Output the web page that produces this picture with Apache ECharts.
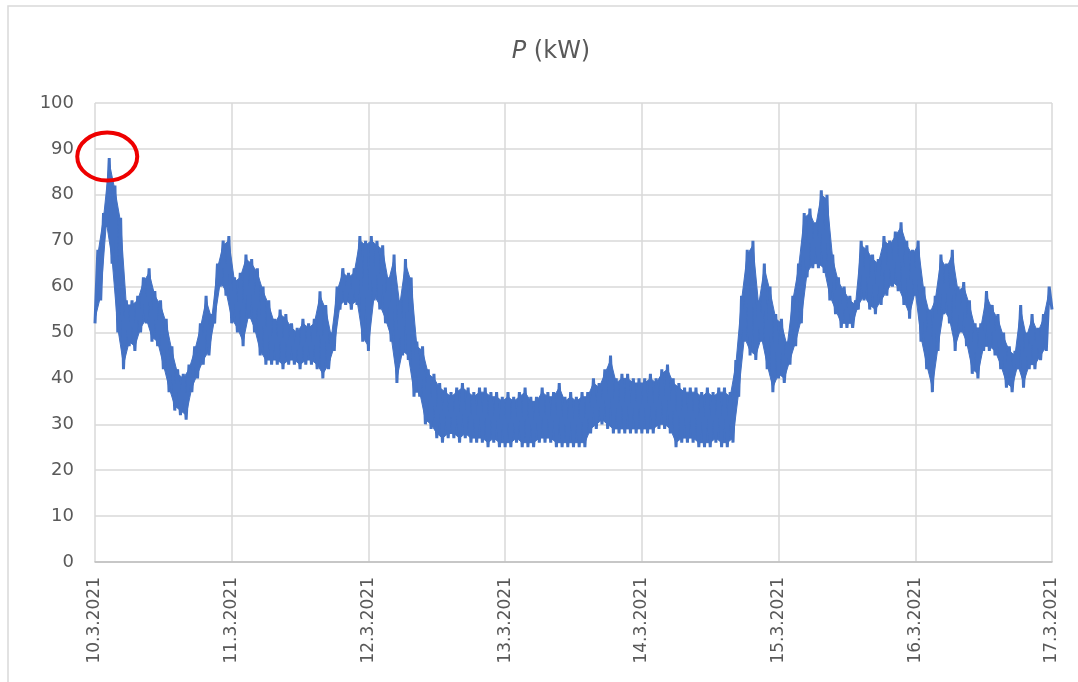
<!DOCTYPE html>
<html>
<head>
<meta charset="utf-8">
<script src="https://cdn.jsdelivr.net/npm/echarts@6/dist/echarts.min.js"></script>
<style>
html,body{margin:0;padding:0;background:#fff;}
#c{width:1078px;height:682px;}
</style>
</head>
<body>
<div id="c"></div>
<script>
// Tick labels (one per day, midnight)
const tickLabels = ['10.3.2021','11.3.2021','12.3.2021','13.3.2021','14.3.2021','15.3.2021','16.3.2021','17.3.2021'];

// Hourly low / high envelope of P (kW), one row per day, 24 hours each
const lowValues = [
  [52,57,73,65,50,42,47,46,50,52,48,47,42,37,33,32,31,37,40,43,45,52,60,58],
  [52,50,47,53,50,45,43,43,43,42,43,43,42,43,43,42,40,42,46,55,56,55,56,48],
  [46,57,55,52,48,39,45,44,36,36,30,29,27,26,27,27,26,27,26,26,26,25,26,25],
  [25,25,26,25,25,25,26,26,26,25,25,25,25,25,25,28,29,30,29,28,28,28,28,28],
  [28,28,28,29,29,28,25,26,26,26,25,25,25,26,25,25,26,36,48,45,44,48,42,37],
  [40,39,43,47,52,62,64,64,63,57,54,51,51,51,55,57,55,54,56,58,60,59,56,53],
  [58,48,42,37,46,54,52,46,50,47,41,40,46,46,45,42,38,37,42,38,42,42,44,46]
];
const highValues = [
  [68,76,88,82,75,57,57,58,62,64,59,57,53,47,42,41,43,47,52,58,54,65,70,71],
  [62,63,67,66,64,60,57,53,55,54,52,51,53,52,53,59,56,50,60,64,63,64,71,70],
  [71,70,69,62,67,57,66,62,48,47,42,41,39,38,37,38,39,38,37,38,38,37,37,36],
  [37,36,37,38,36,36,38,37,37,39,36,37,36,37,37,40,39,42,45,40,41,41,40,40],
  [40,41,40,42,43,40,39,38,38,38,37,38,37,38,38,37,44,58,68,70,57,65,60,54],
  [53,48,58,65,76,77,74,81,80,67,62,60,58,57,70,69,67,66,71,70,72,74,70,68],
  [70,60,55,58,67,65,68,60,61,57,52,52,59,56,54,50,47,46,56,50,54,51,54,60]
];
const endValue = 55; // value at 17.3.2021 00:00

// Build series points [hour, value] from the arrays
const series = [];
const quads = []; // [t, lo, hi, nextLo, nextHi] per hour, filled under the trace
const flatLo = [], flatHi = [];
for (let d = 0; d < lowValues.length; d++) {
  for (let h = 0; h < 24; h++) {
    const t = d * 24 + h;
    flatLo.push(lowValues[d][h]); flatHi.push(highValues[d][h]);
    series.push([t, lowValues[d][h]]);
    series.push([t + 0.5, highValues[d][h]]);
  }
}
for (let i = 0; i < flatLo.length - 1; i++) {
  quads.push([i, flatLo[i], flatHi[i], flatLo[i + 1], flatHi[i + 1]]);
}
const lastHour = (tickLabels.length - 1) * 24;
series.push([lastHour, endValue]);

// peak point (for the red annotation ring)
let peak = series[0];
series.forEach(p => { if (p[1] > peak[1]) peak = p; });

const BLUE = '#4472C4';
const chart = echarts.init(document.getElementById('c'), null, {renderer: 'canvas'});
const axisFont = 'DejaVu Sans';
chart.setOption({
  animation: false,
  backgroundColor: '#ffffff',
  title: {
    text: '{i|P} (kW)',
    left: 546,
    textAlign: 'center',
    top: 35,
    textStyle: {
      fontFamily: axisFont, fontSize: 24, fontWeight: 'normal', color: '#595959',
      rich: { i: { fontFamily: axisFont, fontSize: 24, fontStyle: 'italic', color: '#595959' } }
    }
  },
  grid: { left: 95, right: 26, top: 103, bottom: 120, containLabel: false },
  xAxis: {
    type: 'value',
    min: 0, max: lastHour, interval: 24,
    axisLine: { show: true, lineStyle: { color: '#bfbfbf', width: 1.5 } },
    axisTick: { show: false },
    splitLine: { show: true, lineStyle: { color: '#d9d9d9', width: 1.5 } },
    axisLabel: {
      rotate: 90, margin: 15,
      fontFamily: axisFont, fontSize: 17, color: '#595959',
      formatter: v => tickLabels[Math.round(v / 24)] || ''
    }
  },
  yAxis: {
    type: 'value',
    min: 0, max: 100, interval: 10,
    axisLine: { show: false },
    axisTick: { show: false },
    splitLine: { show: true, lineStyle: { color: '#d9d9d9', width: 1.5 } },
    axisLabel: { margin: 21, fontFamily: axisFont, fontSize: 18, color: '#595959' }
  },
  series: [
    {
      type: 'custom',
      data: quads,
      silent: true,
      z: 2,
      encode: { x: 0, y: 1 },
      renderItem: function (params, api) {
        const t = api.value(0);
        const p1 = api.coord([t, api.value(1) + 1]);
        const p2 = api.coord([t + 0.5, api.value(2) - 1]);
        const p3 = api.coord([t + 1.5, api.value(4) - 1]);
        const p4 = api.coord([t + 1, api.value(3) + 1]);
        return {
          type: 'polygon',
          shape: { points: [p1, p2, p3, p4], smooth: 0 },
          style: { fill: BLUE, stroke: BLUE, lineWidth: 1 }
        };
      }
    },
    {
      type: 'line', name: 'P',
      data: series,
      showSymbol: false,
      symbol: 'none',
      lineStyle: { color: BLUE, width: 3 },
      itemStyle: { color: BLUE },
      z: 3
    }
  ]
});

const pc = chart.convertToPixel({gridIndex: 0}, peak);
chart.setOption({
  graphic: [
    { type: 'rect', shape: { x: 8, y: 6, width: 1100, height: 700 }, style: { fill: 'none', stroke: '#d9d9d9', lineWidth: 1.5 }, z: 0 },
    { type: 'ellipse', shape: { cx: pc[0] - 2, cy: pc[1] - 1.5, rx: 30, ry: 24 }, style: { fill: 'none', stroke: '#ee0000', lineWidth: 4 }, z: 100 }
  ]
});
</script>
</body>
</html>
